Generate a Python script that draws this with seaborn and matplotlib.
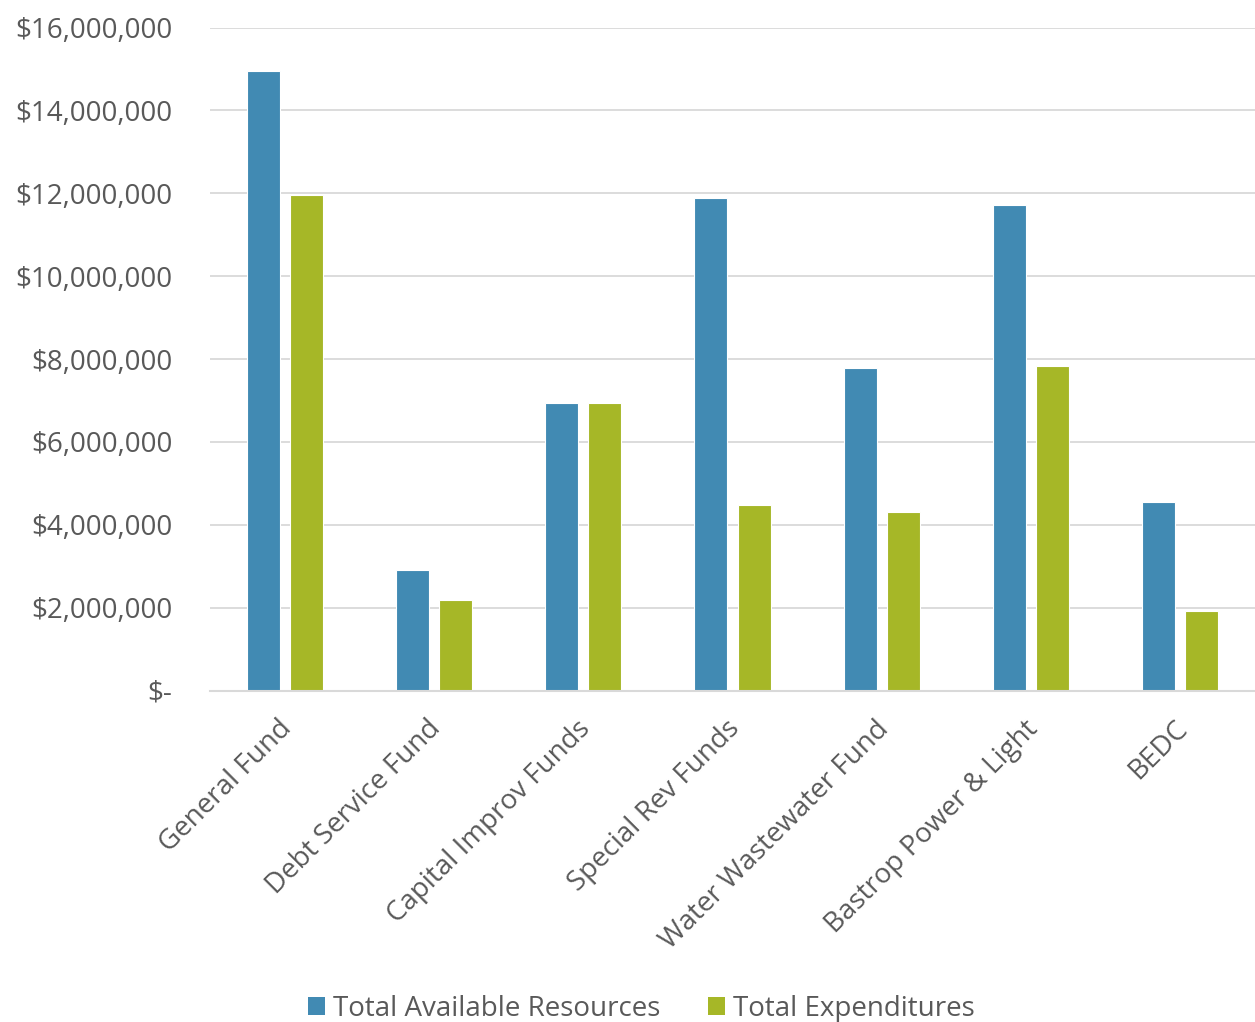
import matplotlib
matplotlib.use("Agg")
import matplotlib.pyplot as plt
import matplotlib.transforms as mtransforms
import seaborn as sns
import pandas as pd
from matplotlib.ticker import FuncFormatter
from matplotlib.patches import Patch

categories = ["General Fund", "Debt Service Fund", "Capital Improv Funds", "Special Rev Funds",
              "Water Wastewater Fund", "Bastrop Power & Light", "BEDC"]
available = [14950000, 2900000, 6950000, 11880000, 7780000, 11720000, 4560000]
expenditures = [11960000, 2180000, 6950000, 4480000, 4310000, 7840000, 1920000]
series = ["Total Available Resources", "Total Expenditures"]
colors = ["#418AB3", "#A6B727"]

df = pd.DataFrame({
    "cat": categories * 2,
    "val": available + expenditures,
    "series": [series[0]] * len(categories) + [series[1]] * len(categories),
})

sns.set_theme(style="white")
plt.rcParams["font.family"] = ["Open Sans", "DejaVu Sans"]
text_color = "#595959"

fig = plt.figure(figsize=(12.55, 10.22), dpi=100)
ax = fig.add_axes([210/1255, 1-690.5/1022, 1-210/1255, (690.5-27.5)/1022])

sns.barplot(data=df, x="cat", y="val", hue="series", palette=colors, order=categories,
            hue_order=series, width=0.577, gap=0.235, ax=ax, legend=False,
            edgecolor="white", linewidth=0.8, saturation=1)

ax.set_ylim(0, 16000000)
ax.set_xlim(-0.5, len(categories) - 0.5)
ax.set_yticks(range(0, 16000001, 2000000))
ax.yaxis.set_major_formatter(FuncFormatter(lambda v, p: "$-" if v == 0 else f"${v:,.0f}"))
ax.grid(axis="y", color="#D9D9D9", linewidth=1.3)
ax.set_axisbelow(True)
for s in ["left", "right", "top"]:
    ax.spines[s].set_visible(False)
ax.spines["bottom"].set_color("#D9D9D9")
ax.spines["bottom"].set_linewidth(1.5)
ax.set_xlabel("")
ax.set_ylabel("")
ax.tick_params(axis="y", length=0, pad=27, labelsize=20, labelcolor=text_color)
ax.tick_params(axis="x", length=0, pad=14, labelsize=20, labelcolor=text_color)
offset = mtransforms.ScaledTranslation(-7/100, -5/100, fig.dpi_scale_trans)
for lab in ax.get_xticklabels():
    lab.set_rotation(45)
    lab.set_ha("right")
    lab.set_rotation_mode("anchor")
    lab.set_transform(lab.get_transform() + offset)

handles = [Patch(facecolor=c, edgecolor="none") for c in colors]
leg = fig.legend(handles, series, loc="center", bbox_to_anchor=(641.5/1255, 1-1009/1022), ncol=2,
                 frameon=False, fontsize=20, handlelength=0.6, handleheight=0.6,
                 handletextpad=0.3, columnspacing=1.7, labelcolor=text_color)

fig.savefig("out.png", dpi=100)
